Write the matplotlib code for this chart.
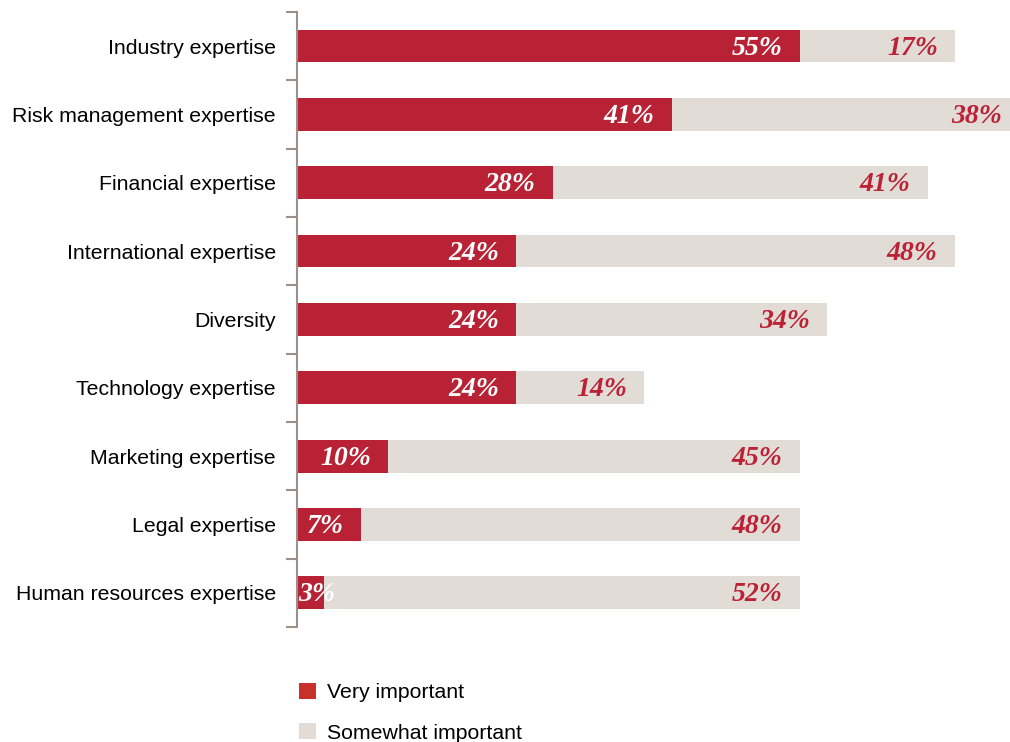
import matplotlib.pyplot as plt
import numpy as np
from matplotlib.patches import Patch

CATEGORIES = [
    "Industry expertise",
    "Risk management expertise",
    "Financial expertise",
    "International expertise",
    "Diversity",
    "Technology expertise",
    "Marketing expertise",
    "Legal expertise",
    "Human resources expertise",
]
VERY = [55, 41, 28, 24, 24, 24, 10, 7, 3]
SOMEWHAT = [17, 38, 41, 48, 34, 14, 45, 48, 52]
SERIES = ["Very important", "Somewhat important"]

RED = "#B82234"
GREY = "#E2DCD7"
LABEL_RED = "#BC2236"
SPINE = "#9C918A"

fig = plt.figure(figsize=(10.1, 7.42), dpi=100)
ax = fig.add_axes([0.294, 0.155, 0.706, 0.829])

y = np.arange(len(CATEGORIES))
very = np.array(VERY, dtype=float)
somewhat = np.array(SOMEWHAT, dtype=float)

ax.barh(y, very, height=0.48, color=RED, linewidth=0)
ax.barh(y, somewhat, left=very, height=0.48, color=GREY, linewidth=0)

# value labels: right aligned inside each segment, tiny ones pinned to the left
label_font = dict(family="Liberation Serif", style="italic", weight="bold", fontsize=20)
pad = 1.9
for yi, v, s in zip(y, very, somewhat):
    if v < 5:
        ax.text(0.1, yi + 0.03, f"{int(v)}%", ha="left", va="center", color="white", **label_font)
    else:
        ax.text(v - pad, yi + 0.03, f"{int(v)}%", ha="right", va="center", color="white", **label_font)
    ax.text(v + s - pad, yi + 0.03, f"{int(s)}%", ha="right", va="center", color=LABEL_RED,
            clip_on=False, **label_font)

ax.set_xlim(0, 78.0)
ax.set_ylim(8.5, -0.5)
ax.set_yticks(y)
ax.set_yticklabels(CATEGORIES, family="Liberation Sans", fontsize=15.3)
ax.set_yticks(np.arange(-0.5, len(CATEGORIES)), minor=True)
ax.tick_params(axis="y", which="major", length=0, pad=15)
ax.tick_params(axis="y", which="minor", length=8, width=1.5, color=SPINE)
ax.set_xticks([])
for side in ("top", "right", "bottom"):
    ax.spines[side].set_visible(False)
ax.spines["left"].set_color(SPINE)
ax.spines["left"].set_linewidth(1.5)

handles = [Patch(color="#C8302B", linewidth=0), Patch(color=GREY, linewidth=0)]
fig.legend(
    handles,
    SERIES,
    loc="upper left",
    bbox_to_anchor=(0.296, 0.080),
    frameon=False,
    prop=dict(family="Liberation Sans", size=15.3),
    handlelength=0.78,
    handleheight=0.78,
    handletextpad=0.55,
    labelspacing=1.0,
    borderaxespad=0,
    borderpad=0,
)

fig.savefig("out.png", dpi=100)
